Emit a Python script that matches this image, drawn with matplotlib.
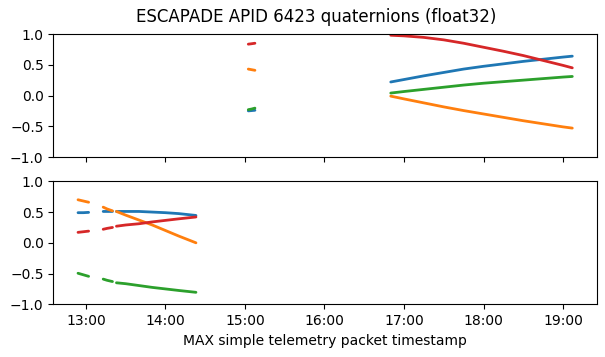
import numpy as np
import pandas as pd
import matplotlib
matplotlib.use("Agg")
import matplotlib.pyplot as plt
import matplotlib.dates as mdates

day = "2025-11-20 "

# top panel: short burst near 15:00 and the long pass in the afternoon
top_times = ["15:02:30", "15:05:00", "15:07:30", None,
             "16:50", "17:00", "17:15", "17:30", "17:45", "18:00",
             "18:15", "18:30", "18:45", "19:00", "19:07"]
top_q0 = [-0.25, -0.245, -0.24, None,
          0.22, 0.26, 0.32, 0.375, 0.43, 0.475, 0.515, 0.555, 0.59, 0.625, 0.64]
top_q1 = [0.43, 0.42, 0.41, None,
          -0.01, -0.055, -0.12, -0.185, -0.245, -0.30, -0.355, -0.41, -0.46, -0.51, -0.53]
top_q2 = [-0.23, -0.22, -0.205, None,
          0.04, 0.065, 0.10, 0.135, 0.17, 0.20, 0.225, 0.25, 0.275, 0.30, 0.31]
top_q3 = [0.835, 0.842, 0.85, None,
          0.98, 0.97, 0.945, 0.905, 0.85, 0.785, 0.72, 0.65, 0.57, 0.49, 0.45]

# bottom panel: three segments early in the session
bot_times = ["12:54", "12:58", "13:02", None,
             "13:13", "13:16", "13:20", None,
             "13:23", "13:30", "13:40", "13:50", "14:00", "14:10", "14:23"]
bot_q0 = [0.49, 0.49, 0.495, None,
          0.51, 0.51, 0.51, None,
          0.51, 0.51, 0.51, 0.50, 0.49, 0.475, 0.445]
bot_q1 = [0.70, 0.68, 0.66, None,
          0.58, 0.55, 0.52, None,
          0.51, 0.45, 0.37, 0.29, 0.20, 0.11, 0.0]
bot_q2 = [-0.495, -0.52, -0.545, None,
          -0.59, -0.61, -0.63, None,
          -0.65, -0.665, -0.695, -0.725, -0.75, -0.775, -0.805]
bot_q3 = [0.17, 0.18, 0.19, None,
          0.22, 0.235, 0.25, None,
          0.27, 0.29, 0.31, 0.34, 0.365, 0.39, 0.42]

colors = ["tab:blue", "tab:orange", "tab:green", "tab:red"]


def to_time(lst):
    # gaps (None) become NaT so the line breaks there
    return pd.to_datetime([day + t if t else None for t in lst], format="mixed")


def to_vals(lst):
    return np.array([np.nan if v is None else v for v in lst], dtype=float)


fig = plt.figure(figsize=(6.05, 3.57), dpi=100)
ax1 = fig.add_axes([0.0881, 0.5602, 0.8987, 0.3445])
ax2 = fig.add_axes([0.0881, 0.1476, 0.8987, 0.3445], sharex=ax1)

for ax, times, series in [(ax1, top_times, [top_q0, top_q1, top_q2, top_q3]),
                          (ax2, bot_times, [bot_q0, bot_q1, bot_q2, bot_q3])]:
    t = to_time(times)
    for vals, c in zip(series, colors):
        ax.plot(t, to_vals(vals), color=c, lw=2.0, solid_capstyle="round")
    ax.set_ylim(-1, 1)
    ax.set_yticks([-1.0, -0.5, 0.0, 0.5, 1.0])

ax2.xaxis.set_major_locator(mdates.HourLocator())
ax2.xaxis.set_major_formatter(mdates.DateFormatter("%H:%M"))
plt.setp(ax1.get_xticklabels(), visible=False)

ax2.set_xlabel("MAX simple telemetry packet timestamp")
fig.suptitle("ESCAPADE APID 6423 quaternions (float32)", x=0.522, y=0.977, fontsize=12)

fig.savefig("out.png", dpi=100)
